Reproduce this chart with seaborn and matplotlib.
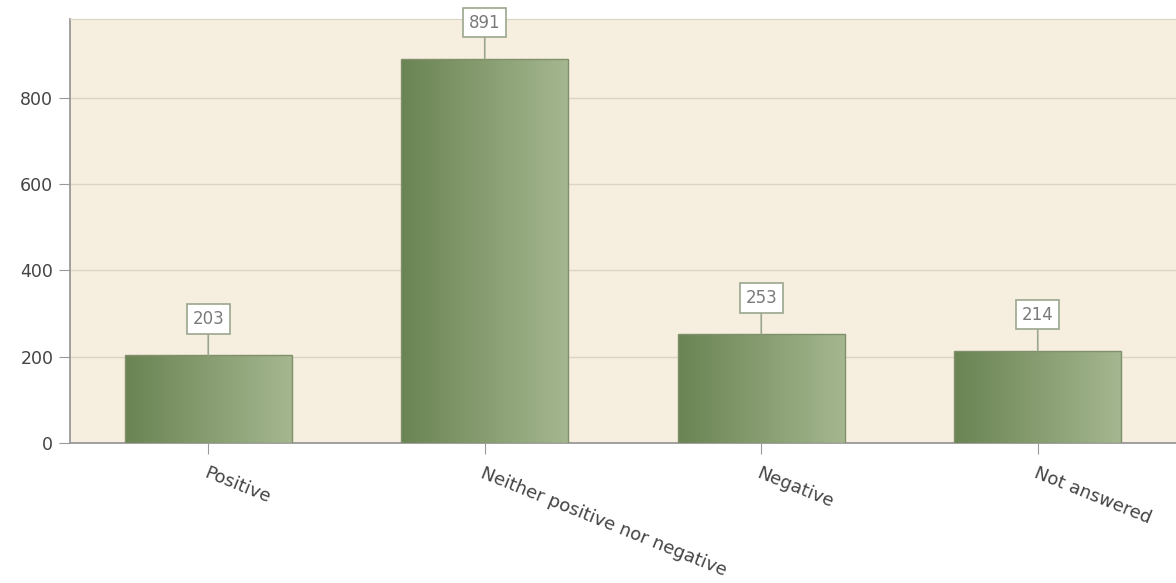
import matplotlib
matplotlib.use('Agg')
import matplotlib.pyplot as plt
import seaborn as sns
import numpy as np
import pandas as pd
from matplotlib.colors import LinearSegmentedColormap

# data
categories = ['Positive', 'Neither positive nor negative', 'Negative', 'Not answered']
counts = [203, 891, 253, 214]

df = pd.DataFrame({'answer': categories, 'count': counts})

sns.set_style('white')
plt.rcParams['font.family'] = ['DejaVu Sans']

fig = plt.figure(figsize=(11.76, 5.83), dpi=100)
ax = fig.add_axes([70 / 1176, 1 - 443 / 583, 1106 / 1176, 424 / 583])
ax.set_facecolor('#f6efe0')

sns.barplot(data=df, x='answer', y='count', ax=ax, width=0.605,
            color='#87a070', edgecolor='#80906b', linewidth=1, zorder=3)

# horizontal gradient on each bar
cmap = LinearSegmentedColormap.from_list('g', ['#6a8453', '#a5b790'])
grad = np.linspace(0, 1, 256).reshape(1, -1)
for p in ax.patches:
    x0, y0 = p.get_x(), p.get_y()
    w, h = p.get_width(), p.get_height()
    im = ax.imshow(grad, cmap=cmap, aspect='auto', extent=[x0, x0 + w, y0, y0 + h],
                   zorder=3.5)
    im.set_clip_path(p)
    p.set_facecolor('none')
    p.set_zorder(4)

ax.set_xlim(-0.5, 3.5)
ax.set_ylim(0, 983)
ax.set_yticks([0, 200, 400, 600, 800])
ax.grid(axis='y', color='#dcd5c3', linewidth=1, zorder=0)
ax.set_axisbelow(True)

# value boxes
for i, v in enumerate(counts):
    ax.annotate(str(v), xy=(i, v), xytext=(0, 26), textcoords='offset points',
                ha='center', va='center', fontsize=12, color='#7a7a7a',
                bbox=dict(boxstyle='square,pad=0.35', fc='white', ec='#9aa68c', lw=1.2),
                arrowprops=dict(arrowstyle='-', color='#9aa68c', lw=1.2,
                                shrinkA=0, shrinkB=0),
                zorder=5)

ax.set_xlabel('')
ax.set_ylabel('')
ax.tick_params(axis='y', left=True, length=8, color='#999999', labelsize=12.5,
               labelcolor='#444444', pad=4)
ax.tick_params(axis='x', bottom=True, length=8, color='#999999', labelsize=13,
               labelcolor='#444444', pad=7)
for lab in ax.get_xticklabels():
    lab.set_rotation(-22)
    lab.set_ha('left')
    lab.set_va('top')
    lab.set_rotation_mode('anchor')

for s in ['left', 'bottom']:
    ax.spines[s].set_color('#999999')
    ax.spines[s].set_linewidth(1.3)
ax.spines['top'].set_color('#d8d3c6')
ax.spines['right'].set_visible(False)

fig.savefig('out.png', dpi=100)
